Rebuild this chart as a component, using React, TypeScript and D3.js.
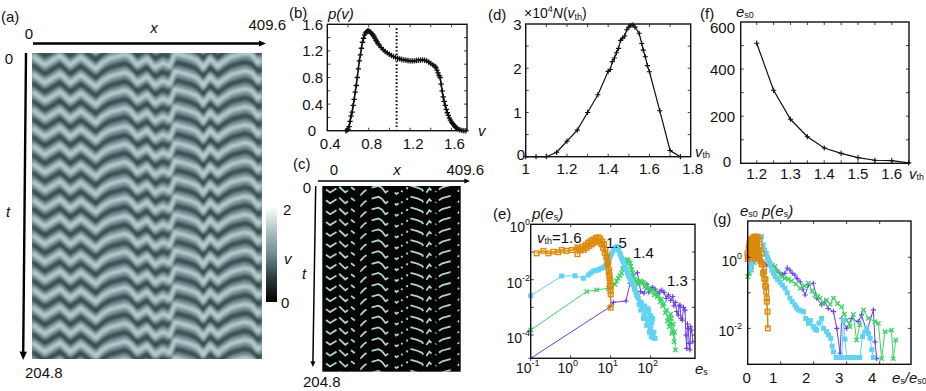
import React from "react";
import * as d3 from "d3";

const FONT = "'Liberation Sans', Arial, sans-serif";

// ---------- data ----------
// Shape of a velocity front across the road (x) and its delay in t
const frontX = [0,23,50,68,87,114,125,139,166,176,187,205,219,233,246,254,281,295,305,317,331,338,355,379,392,402,409.6];
const frontT = [-3.6,2.7,-3.6,2.7,-2.7,5.4,1.2,-1.8,-4.5,-2.5,2.7,-1.8,4.5,1,3.6,-5.4,-2.7,-0.5,4.5,-1.8,3.6,1,-3,-5.4,-4.2,1,-1];
// t at which each wave crosses the reference position
const bandT = [-18.6,-6.6,5.4,17.4,29.4,41.4,53.4,65.4,77.4,89.4,101.4,113.4,125.4,137.4,149.4,161.4,173.4,185.4,197.4,209.4];
// x ranges in which v exceeds the threshold (panel c)
const segStart = [11,50,85,113,146,215,233,250,261,308,335,345,401];
const segEnd = [42,76,96,131,195,226,238,252,299,323,337,380,405];

const vVals = [.58,.59,.6,.61,.62,.63,.64,.65,.66,.67,.68,.69,.7,.71,.72,.73,.74,.75,.76,.77,.78,.79,.8,.81,.82,.83,.84,.85,.86,.87,.88,.89,.9,.92,.94,.96,.98,1,1.02,1.04,1.06,1.08,1.1,1.12,1.14,1.16,1.18,1.2,1.22,1.24,1.26,1.28,1.3,1.32,1.34,1.36,1.38,1.4,1.42,1.44,1.45,1.46,1.47,1.48,1.49,1.5,1.51,1.52,1.53,1.54,1.55,1.56,1.57,1.58,1.59,1.6,1.61,1.62,1.63,1.64,1.65,1.66,1.68,1.7,1.72,1.74];
const pVals = [0,.005,.02,.06,.14,.22,.28,.38,.47,.58,.68,.8,.93,1.05,1.14,1.24,1.33,1.39,1.44,1.47,1.49,1.5,1.5,1.49,1.48,1.46,1.44,1.42,1.39,1.36,1.34,1.31,1.29,1.25,1.22,1.19,1.17,1.15,1.13,1.115,1.1,1.09,1.08,1.07,1.065,1.06,1.055,1.05,1.05,1.05,1.055,1.06,1.06,1.065,1.06,1.05,1.03,1.01,.99,.97,.95,.91,.87,.83,.8,.7,.6,.51,.44,.38,.32,.27,.23,.19,.16,.13,.11,.09,.07,.05,.04,.03,.015,.005,0,0];
const vMean = 1.07;

const nV = [1,1.05,1.1,1.15,1.2,1.25,1.3,1.35,1.4,1.41,1.42,1.43,1.44,1.45,1.46,1.47,1.48,1.49,1.5,1.51,1.52,1.53,1.55,1.5624,1.57,1.58,1.59,1.6,1.65,1.7,1.75];
const nN = [0,0,0,.1,.35,.6,1,1.4,1.93,1.97,2.15,2.23,2.35,2.45,2.63,2.68,2.73,2.87,2.93,2.97,2.98,2.93,2.79,2.56,2.41,2.26,2.06,1.92,1.04,.14,0];

const e0V = [1.2,1.25,1.3,1.35,1.4,1.45,1.5,1.55,1.6,1.65];
const e0E = [510,310,187,113,65,42,24,13,11,2];

// Panel (e): log10(e_s), log10(p)
const eOrangeX = [-.85,-.683,-.558,-.433,-.308,-.225,-.1,.025,.167,.167,.2,.25,.3,.33,.38,.4,.44,.47,.5,.53,.56,.6,.63,.66,.69,.72,.74,.77,.79,.81,.83,.85,.87,.89,.91,.92,.94,.95,.96,.97,.975,.98,.99,.995,1,1,1];
const eOrangeY = [-1.05,-.96,-1.05,-.99,-1.01,-.93,-.96,-.93,-.84,-1.08,-.9,-.94,-.8,-.92,-.74,-.85,-.66,-.78,-.6,-.72,-.55,-.66,-.49,-.62,-.47,-.6,-.52,-.72,-.62,-.85,-.72,-1.03,-.92,-1.2,-1.15,-1.45,-1.4,-1.72,-1.65,-1.95,-1.85,-2.2,-2.05,-2.4,-2.25,-2.53,-3.01];
const eCyanX = [-1,-.225,.108,.317,.442,.5,.567,.63,.692,.75,.817,.86,.9,.935,.967,1,1.025,1.055,1.083,1.11,1.133,1.15,1.167,1.2,1.233,1.255,1.275,1.295,1.317,1.34,1.358,1.38,1.4,1.42,1.442,1.46,1.483,1.505,1.525,1.545,1.567,1.59,1.608,1.63,1.65,1.67,1.69,1.71,1.733,1.75,1.77,1.8,1.82,1.833,1.85,1.883,1.9,1.917,1.935,1.95,1.97,1.983,2,2.017,2.03,2.05,2.067,2.08,2.108];
const eCyanY = [-2.58,-1.87,-1.86,-1.95,-1.83,-1.76,-1.69,-1.66,-1.65,-1.6,-1.57,-1.5,-1.41,-1.32,-1.23,-1.14,-1.05,-.97,-.89,-.86,-.84,-.82,-.81,-.93,-1.05,-1.14,-1.23,-1.28,-1.35,-1.45,-1.53,-1.6,-1.65,-1.75,-1.83,-1.88,-1.95,-2.03,-2.1,-2.15,-2.19,-2.3,-2.37,-2.45,-2.55,-2.6,-2.67,-2.9,-2.8,-3.1,-2.85,-2.98,-3.4,-3.28,-2.95,-3.1,-3.65,-3.46,-3.05,-3.16,-3.9,-3.76,-3.3,-4.06,-3.55,-3.4,-4.1,-3.9,-4.12];
const eGreenX = [-1,.4,.65,.942,1.108,1.15,1.19,1.23,1.275,1.3,1.333,1.36,1.383,1.41,1.433,1.46,1.483,1.505,1.525,1.545,1.567,1.6,1.633,1.66,1.69,1.72,1.75,1.78,1.817,1.85,1.883,1.92,1.967,2,2.05,2.09,2.133,2.165,2.2,2.235,2.267,2.3,2.333,2.365,2.4,2.42,2.45,2.465,2.483,2.5,2.517,2.53,2.55,2.565,2.583,2.6,2.617];
const eGreenY = [-3.82,-2.43,-2.37,-2.31,-2.17,-2.05,-1.95,-1.85,-1.77,-1.6,-1.47,-1.4,-1.33,-1.28,-1.29,-1.35,-1.41,-1.52,-1.65,-1.75,-1.86,-2.0,-2.05,-2.12,-2.17,-2.1,-2.05,-2.08,-2.1,-2.25,-2.19,-2.32,-2.29,-2.45,-2.37,-2.55,-2.46,-2.62,-2.58,-2.8,-2.7,-2.95,-2.86,-3.2,-3.1,-3.5,-3.34,-3.7,-3.58,-3.25,-3.4,-3.95,-3.88,-3.6,-4.24,-3.9,-4.54];
const ePurpleX = [-1,.983,1.067,1.383,1.483,1.55,1.667,1.75,1.833,1.9,1.95,2,2.05,2.108,2.17,2.233,2.28,2.333,2.39,2.442,2.5,2.55,2.58,2.617,2.65,2.692,2.71,2.733,2.76,2.79,2.82,2.858,2.88,2.9,2.92,2.942,2.96,2.983,3,3.025,3.05];
const ePurpleY = [-4.84,-2.98,-2.82,-2.77,-2.13,-1.83,-1.75,-2.43,-2.49,-2.17,-2.45,-2.37,-2.28,-2.34,-2.5,-2.41,-2.38,-2.46,-2.68,-2.55,-2.75,-2.61,-2.95,-2.82,-3.15,-3.28,-2.95,-2.92,-3.4,-3.46,-3.0,-3.1,-4.0,-4.48,-3.6,-3.76,-4.3,-4.54,-3.7,-3.82,-4.24];

// Panel (g): e_s/e_s0, log10(e_s0 p)
const gOrangeX = [-.01,.03,0,.05,.02,.07,.04,.1,.08,.13,.12,.17,.16,.21,.2,.26,.25,.3,.3,.35,.34,.39,.38,.43,.42,.47,.46,.5,.5,.54,.53,.56,.56,.58,.58,.6,.61];
const gOrangeY = [.11,.28,-.05,.38,0,.45,.05,.5,.1,.52,.1,.56,.0,.58,-.05,.58,.05,.56,.15,.5,.05,.3,-.1,.1,-.2,-.2,-.45,-.4,-.6,-.62,-.8,-.83,-.97,-1.15,-1.25,-1.53,-2];
const gCyanX = [.07,.12,.17,.21,.25,.28,.32,.37,.42,.47,.51,.56,.6,.63,.68,.73,.78,.83,.9,.98,1.05,1.13,1.2,1.28,1.35,1.43,1.48,1.54,1.6,1.69,1.76,1.84,1.9,1.99,2.04,2.09,2.16,2.24,2.3,2.39,2.45,2.52,2.56,2.6,2.68,2.75,2.85,2.9,2.95,3,3.1,3.2,3.3,3.4,3.48,3.55,3.61,3.66,3.71,3.76,3.81];
const gCyanY = [-.36,-.2,-.03,.15,.35,.45,.55,.58,.58,.35,.2,.11,.0,-.08,-.22,-.36,-.45,-.54,-.62,-.7,-.78,-.87,-1.0,-1.15,-1.25,-1.34,-1.42,-1.48,-1.5,-1.53,-1.72,-1.86,-1.78,-1.95,-2.02,-2.05,-1.85,-1.72,-2,-2.09,-2.18,-2.28,-2.5,-2.66,-2.82,-2.82,-2.82,-1.77,-2.3,-2.82,-2.82,-2.82,-2.82,-2.82,-2.23,-2.1,-2,-2.15,-2.28,-2.6,-2.82];
const gGreenX = [0,.06,.12,.2,.27,.37,.47,.58,.68,.75,.83,.9,.98,1.05,1.13,1.23,1.33,1.46,1.59,1.72,1.84,1.95,2.04,2.12,2.19,2.29,2.39,2.5,2.6,2.72,2.85,2.93,3,3.1,3.2,3.3,3.4,3.51,3.66,3.86,3.96,4.06,4.16,4.36,4.41,4.49];
const gGreenY = [-.54,-.45,-.36,-.15,.02,.12,.21,-.02,-.17,-.22,-.26,-.4,-.5,-.55,-.59,-.62,-.67,-.75,-.87,-.8,-.73,-.95,-1.06,-1.1,-1.15,-1.3,-1.2,-1.32,-1.15,-1.3,-1.39,-1.6,-1.77,-1.95,-1.61,-2.33,-1.9,-1.48,-1.72,-1.81,-1.86,-2.85,-2.09,-2.05,-2.85,-2.33];
const gPurpleX = [.02,.12,.22,.3,.37,.47,.58,.68,.78,.88,.98,1.05,1.13,1.2,1.28,1.35,1.43,1.5,1.59,1.67,1.74,1.84,1.99,2.09,2.24,2.34,2.44,2.6,2.7,2.8,2.85,3,3.15,3.35,3.45,3.61,3.81,3.86,3.91];
const gPurpleY = [-.5,.54,.49,.2,-.08,-.15,-.22,-.24,-.26,-.36,-.45,-.48,-.45,-.3,-.36,-.45,-.5,-.6,-.69,-.9,-1.06,-.78,-.73,-1.15,-1.34,-1.25,-1.44,-1.53,-2,-2.7,-1.72,-2,-1.72,-1.81,-1.62,-2.09,-1.48,-2.38,-2.85];

const C_ORANGE = "#dc8a0c";
const C_CYAN = "#62d2f2";
const C_GREEN = "#3fd268";
const C_PURPLE = "#6a3ee6";

// ---------- helpers ----------
const FS = 15;
type TP = { x: number; y: number; children?: any; anchor?: string; italic?: boolean; size?: number };
const T = ({ x, y, children, anchor = "start", italic = false, size = FS }: TP) => (
  <text x={x} y={y} textAnchor={anchor as any} dominantBaseline="central" fontSize={size}
    fontFamily={FONT} fontStyle={italic ? "italic" : "normal"} fill="#111">{children}</text>
);
const Sub = ({ children, size = 9 }: any) => <tspan fontSize={size} fontStyle="normal" dy={4}>{children}</tspan>;

const plus = (r: number) => `M${-r},0H${r}M0,${-r}V${r}`;
const cross = (r: number) => `M${-r},${-r}L${r},${r}M${-r},${r}L${r},${-r}`;

type Box = { l: number; r: number; t: number; b: number };
const Frame = ({ box, xT, yT, xs, ys }: { box: Box; xT: number[]; yT: number[]; xs: (v: number) => number; ys: (v: number) => number }) => (
  <g stroke="#111" fill="none">
    {xT.map((v, i) => <path key={"x" + i} strokeWidth={0.8} d={`M${xs(v)},${box.b}v-3M${xs(v)},${box.t}v3`} />)}
    {yT.map((v, i) => <path key={"y" + i} strokeWidth={0.8} d={`M${box.l},${ys(v)}h3M${box.r},${ys(v)}h-3`} />)}
    <rect x={box.l} y={box.t} width={box.r - box.l} height={box.b - box.t} strokeWidth={1.4} />
  </g>
);

const Series = ({ xv, yv, xs, ys, color, marker, width = 1, ms = 6 }: any) => {
  const pts: [number, number][] = xv.slice(0, yv.length).map((v: number, i: number) => [xs(v), ys(yv[i])]);
  const d = d3.line()(pts) as string;
  return (
    <g>
      <path d={d} fill="none" stroke={color} strokeWidth={width} />
      {pts.map((p, i) => {
        const tr = `translate(${p[0]},${p[1]})`;
        if (marker === "plus") return <path key={i} transform={tr} d={plus(2.6)} stroke={color} strokeWidth={1.1} fill="none" />;
        if (marker === "cross") return <path key={i} transform={tr} d={cross(2.2)} stroke={color} strokeWidth={1.4} fill="none" />;
        if (marker === "fill") return <rect key={i} x={p[0] - ms / 2} y={p[1] - ms / 2} width={ms} height={ms} fill={color} />;
        return <rect key={i} x={p[0] - 2.3} y={p[1] - 2.3} width={4.6} height={4.6} fill="none" stroke={color} strokeWidth={1.4} />;
      })}
    </g>
  );
};

const Arrow = ({ x1, y1, x2, y2, w, head }: any) => {
  const a = Math.atan2(y2 - y1, x2 - x1);
  const deg = (a * 180) / Math.PI;
  return (
    <g>
      <line x1={x1} y1={y1} x2={x2} y2={y2} stroke="#000" strokeWidth={w} />
      <path transform={`translate(${x2},${y2}) rotate(${deg})`} d={`M${head},0L${-head * 0.4},${-head * 0.62}L${-head * 0.4},${head * 0.62}Z`} fill="#000" />
    </g>
  );
};

const frontScale = d3.scaleLinear().domain(frontX).range(frontT);
const frontLine = (xs: d3.ScaleLinear<number, number>, ts: d3.ScaleLinear<number, number>, t0: number) =>
  d3.line<number>().x((x) => xs(x)).y((x) => ts(t0 + frontScale(x)));

// ---------- panels ----------
const PanelA = () => {
  const box = { l: 32, r: 262, t: 53, b: 359 };
  const xs = d3.scaleLinear().domain([0, 409.6]).range([box.l, box.r]);
  const ts = d3.scaleLinear().domain([0, 204.8]).range([box.t, box.b]);
  const half = (bandT[1] - bandT[0]) / 2;
  return (
    <g>
      <defs>
        <clipPath id="ca"><rect x={box.l} y={box.t} width={box.r - box.l} height={box.b - box.t} /></clipPath>
        <filter id="blurA" x="-5%" y="-5%" width="110%" height="110%"><feGaussianBlur stdDeviation="1.7" /></filter>
        <linearGradient id="cbar" x1="0" y1="1" x2="0" y2="0">
          <stop offset="0" stopColor="#000" />
          <stop offset="0.25" stopColor="#2b3a3d" />
          <stop offset="0.5" stopColor="#6f8a8e" />
          <stop offset="0.75" stopColor="#adc2c3" />
          <stop offset="1" stopColor="#fff" />
        </linearGradient>
      </defs>
      <g clipPath="url(#ca)">
        <rect x={box.l} y={box.t} width={box.r - box.l} height={box.b - box.t} fill="#6f8b8f" />
        <g filter="url(#blurA)" fill="none" strokeLinejoin="miter">
          {bandT.map((t0, i) => (
            <path key={"d" + i} d={frontLine(xs, ts, t0 + half)(frontX) as string} stroke="#36494d" strokeWidth={4.5} />
          ))}
          {bandT.map((t0, i) => (
            <path key={"l" + i} d={frontLine(xs, ts, t0)(frontX) as string} stroke="#b9cfd0" strokeWidth={4.5} />
          ))}
        </g>
      </g>
      <Arrow x1={33} y1={43.5} x2={261} y2={43.5} w={2.4} head={5} />
      <Arrow x1={26} y1={53} x2={23.2} y2={354} w={2.4} head={6} />
      <T x={1} y={16}>(a)</T>
      <T x={29} y={33} anchor="middle">0</T>
      <T x={154} y={27} anchor="middle" italic>x</T>
      <T x={286} y={24} anchor="end">409.6</T>
      <T x={9} y={58} anchor="middle">0</T>
      <T x={8} y={211} anchor="middle" italic>t</T>
      <T x={25} y={372}>204.8</T>
      <rect x={266} y={207} width={11} height={95} fill="url(#cbar)" />
      <T x={283} y={209}>2</T>
      <T x={284} y={258} italic>v</T>
      <T x={281} y={302}>0</T>
    </g>
  );
};

const PanelC = () => {
  const box = { l: 322.3, r: 460.7, t: 186, b: 371.7 };
  const xs = d3.scaleLinear().domain([0, 409.6]).range([box.l, box.r]);
  const ts = d3.scaleLinear().domain([0, 204.8]).range([box.t, box.b]);
  return (
    <g>
      <defs><clipPath id="cc"><rect x={box.l} y={box.t} width={box.r - box.l} height={box.b - box.t} /></clipPath></defs>
      <rect x={box.l} y={box.t} width={box.r - box.l} height={box.b - box.t} fill="#050505" />
      <g clipPath="url(#cc)" fill="none" stroke="#b4cfd0" strokeWidth={1.8}>
        {bandT.map((t0, i) =>
          segStart.map((s, j) => {
            const e = segEnd[j];
            const pts = [s, ...frontX.filter((x) => x > s && x < e), e];
            return <path key={i + "-" + j} d={frontLine(xs, ts, t0 - 1)(pts) as string} />;
          })
        )}
      </g>
      <Arrow x1={318} y1={181} x2={466} y2={181} w={1.5} head={4} />
      <Arrow x1={315.7} y1={186} x2={312.9} y2={363} w={1.5} head={4} />
      <T x={293} y={163}>(c)</T>
      <T x={334} y={169} anchor="middle">0</T>
      <T x={397} y={169} anchor="middle" italic>x</T>
      <T x={484} y={169} anchor="end">409.6</T>
      <T x={307} y={187} anchor="middle">0</T>
      <T x={304} y={273} anchor="middle" italic>t</T>
      <T x={303} y={381}>204.8</T>
    </g>
  );
};

const PanelB = () => {
  const box = { l: 327.3, r: 467, t: 24.3, b: 130.7 };
  const xs = d3.scaleLinear().domain([0.4, 1.75]).range([box.l, box.r]);
  const ys = d3.scaleLinear().domain([0, 1.6]).range([box.b, box.t]);
  const xL = [0.4, 0.8, 1.2, 1.6];
  const yL = [0, 0.4, 0.8, 1.2, 1.6];
  const line = d3.line<number>().x((v) => xs(v)).y((_, i) => ys(pVals[i]));
  return (
    <g>
      <path d={line(vVals) as string} fill="none" stroke="#111" strokeWidth={1.6} />
      {vVals.map((v, i) => (
        <path key={i} transform={`translate(${xs(v)},${ys(pVals[i])})`} d={plus(2.7)} stroke="#111" strokeWidth={1.3} fill="none" />
      ))}
      <line x1={xs(vMean)} x2={xs(vMean)} y1={ys(1.54)} y2={ys(0.02)} stroke="#111" strokeWidth={2} strokeDasharray="1.6 2" />
      <Frame box={box} xs={xs} ys={ys} xT={[.6, .8, 1, 1.2, 1.4, 1.6]} yT={[.2, .4, .6, .8, 1, 1.2, 1.4]} />
      {xL.map((v) => <T key={v} x={xs(v) + 3} y={143} anchor="middle">{String(v)}</T>)}
      {yL.map((v) => <T key={v} x={v === 0 ? 316 : 323} y={ys(v)} anchor="end">{v === 0 ? "0" : String(v)}</T>)}
      <T x={289} y={12}>(b)</T>
      <T x={328} y={13} italic>p(v)</T>
      <T x={478} y={130} italic>v</T>
    </g>
  );
};

const PanelD = () => {
  const box = { l: 525.7, r: 690.7, t: 24, b: 156.7 };
  const xs = d3.scaleLinear().domain([1, 1.8]).range([box.l, box.r]);
  const ys = d3.scaleLinear().domain([0, 3]).range([box.b, box.t]);
  const xL = [1, 1.2, 1.4, 1.6, 1.8];
  return (
    <g>
      <Series xv={nV} yv={nN} xs={xs} ys={ys} color="#111" marker="plus" width={1.2} />
      <Frame box={box} xs={xs} ys={ys} xT={[1.1, 1.2, 1.3, 1.4, 1.5, 1.6, 1.7]} yT={[.5, 1, 1.5, 2, 2.5]} />
      {xL.map((v) => <T key={v} x={v === 1.8 ? xs(v) + 2 : xs(v)} y={168} anchor="middle">{String(v)}</T>)}
      {[1, 2, 3].map((v) => <T key={v} x={521.7} y={ys(v)} anchor="end">{String(v)}</T>)}
      <T x={525} y={154} anchor="end">0</T>
      <T x={488} y={14}>(d)</T>
      <T x={524} y={13} size={14}>×10<tspan fontSize={9} dy={-4}>4</tspan><tspan dy={4} fontStyle="italic">N</tspan>(<tspan fontStyle="italic">v</tspan><Sub>th</Sub><tspan dy={-4}>)</tspan></T>
      <T x={695} y={151} italic>v<Sub>th</Sub></T>
    </g>
  );
};

const PanelF = () => {
  const box = { l: 740.7, r: 909, t: 22, b: 163.3 };
  const xs = d3.scaleLinear().domain([1.1526, 1.651]).range([box.l, box.r]);
  const ys = d3.scaleLinear().domain([0, 600]).range([box.b, box.t]);
  const xL = [1.2, 1.3, 1.4, 1.5, 1.6];
  return (
    <g>
      <Series xv={e0V} yv={e0E} xs={xs} ys={ys} color="#111" marker="plus" width={1.2} />
      <Frame box={box} xs={xs} ys={ys} xT={[1.2, 1.25, 1.3, 1.35, 1.4, 1.45, 1.5, 1.55, 1.6]} yT={[100, 200, 300, 400, 500]} />
      {xL.map((v) => <T key={v} x={xs(v)} y={173} anchor="middle">{String(v)}</T>)}
      {[0, 200, 400, 600].map((v) => <T key={v} x={v === 0 ? 731 : 735} y={v === 600 ? ys(v) + 5 : v === 0 ? ys(v) - 2 : ys(v)} anchor="end">{String(v)}</T>)}
      <T x={700} y={13}>(f)</T>
      <T x={736} y={11} italic>e<Sub>s0</Sub></T>
      <T x={909} y={173} italic>v<Sub>th</Sub></T>
    </g>
  );
};

const pow = (a: number[]) => a.map((v) => Math.pow(10, v));

const PanelE = () => {
  const box = { l: 530.7, r: 695, t: 224.3, b: 358.3 };
  const xs = d3.scaleLog().domain([0.1, Math.pow(10, 3.108)]).range([box.l, box.r]);
  const ys = d3.scaleLog().domain([Math.pow(10, -4.84), 1]).range([box.b, box.t]);
  const xL = [[0.1, "-1"], [1, "0"], [10, "1"], [100, "2"]] as [number, string][];
  const yL = [[1, "0"], [0.01, "-2"], [0.0001, "-4"]] as [number, string][];
  return (
    <g>
      <Series xv={pow(ePurpleX)} yv={pow(ePurpleY)} xs={xs} ys={ys} color={C_PURPLE} marker="plus" />
      <Series xv={pow(eGreenX)} yv={pow(eGreenY)} xs={xs} ys={ys} color={C_GREEN} marker="cross" />
      <Series xv={pow(eCyanX)} yv={pow(eCyanY)} xs={xs} ys={ys} color={C_CYAN} marker="fill" ms={5} />
      <Series xv={pow(eOrangeX)} yv={pow(eOrangeY)} xs={xs} ys={ys} color={C_ORANGE} marker="open" width={1.5} />
      <Frame box={box} xs={xs} ys={ys} xT={[1, 10, 100]} yT={[0.1, 0.01, 0.001, 0.0001]} />
      {xL.map(([v, e]) => <T key={v} x={xs(v) - 3} y={368} anchor="middle" size={14}>10<tspan fontSize={9} dy={-5}>{e}</tspan></T>)}
      {yL.map(([v, e]) => <T key={v} x={530} y={ys(v) + 3} anchor="end" size={14}>10<tspan fontSize={9} dy={-5}>{e}</tspan></T>)}
      <T x={493} y={213}>(e)</T>
      <T x={532} y={213} italic>p(e<Sub>s</Sub><tspan dy={-4} fontStyle="italic">)</tspan></T>
      <T x={537} y={237} italic>v<Sub>th</Sub><tspan dy={-4} fontStyle="normal">=1.6</tspan></T>
      <T x={606} y={242}>1.5</T>
      <T x={633} y={252}>1.4</T>
      <T x={667} y={280}>1.3</T>
      <T x={695} y={368} italic>e<Sub>s</Sub></T>
    </g>
  );
};

const PanelG = () => {
  const box = { l: 747.7, r: 911, t: 221, b: 364.3 };
  const xs = d3.scaleLinear().domain([0, 4.95]).range([box.l, box.r]);
  const ys = d3.scaleLog().domain([0.000977, Math.pow(10, 1.02)]).range([box.b, box.t]);
  const xL = [0, 1, 2, 3, 4];
  return (
    <g>
      <Series xv={gPurpleX} yv={pow(gPurpleY)} xs={xs} ys={ys} color={C_PURPLE} marker="plus" />
      <Series xv={gGreenX} yv={pow(gGreenY)} xs={xs} ys={ys} color={C_GREEN} marker="cross" />
      <Series xv={gCyanX} yv={pow(gCyanY)} xs={xs} ys={ys} color={C_CYAN} marker="fill" ms={5} />
      <Series xv={gOrangeX} yv={pow(gOrangeY)} xs={xs} ys={ys} color={C_ORANGE} marker="open" width={1.6} />
      <Frame box={box} xs={xs} ys={ys} xT={[1, 2, 3, 4]} yT={[1, 0.1, 0.01]} />
      {xL.map((v) => <T key={v} x={xs(v) - (v === 0 ? 1 : 7.5)} y={377} anchor="middle">{String(v)}</T>)}
      <T x={742} y={261} anchor="end" size={14}>10<tspan fontSize={9} dy={-5}>0</tspan></T>
      <T x={742} y={331} anchor="end" size={14}>10<tspan fontSize={9} dy={-5}>-2</tspan></T>
      <T x={713} y={218}>(g)</T>
      <T x={740} y={210} italic>e<Sub>s0</Sub><tspan dy={-4}> p(e</tspan><Sub>s</Sub><tspan dy={-4}>)</tspan></T>
      <T x={892} y={377} italic>e<Sub>s</Sub><tspan dy={-4}>/e</tspan><Sub>s0</Sub></T>
    </g>
  );
};

export default function App() {
  return (
    <svg width={926} height={391} viewBox="0 0 926 391"
      style={{ position: "fixed", left: 0, top: 0, background: "#fff", display: "block" }}>
      <PanelA />
      <PanelB />
      <PanelC />
      <PanelD />
      <PanelF />
      <PanelE />
      <PanelG />
    </svg>
  );
}
